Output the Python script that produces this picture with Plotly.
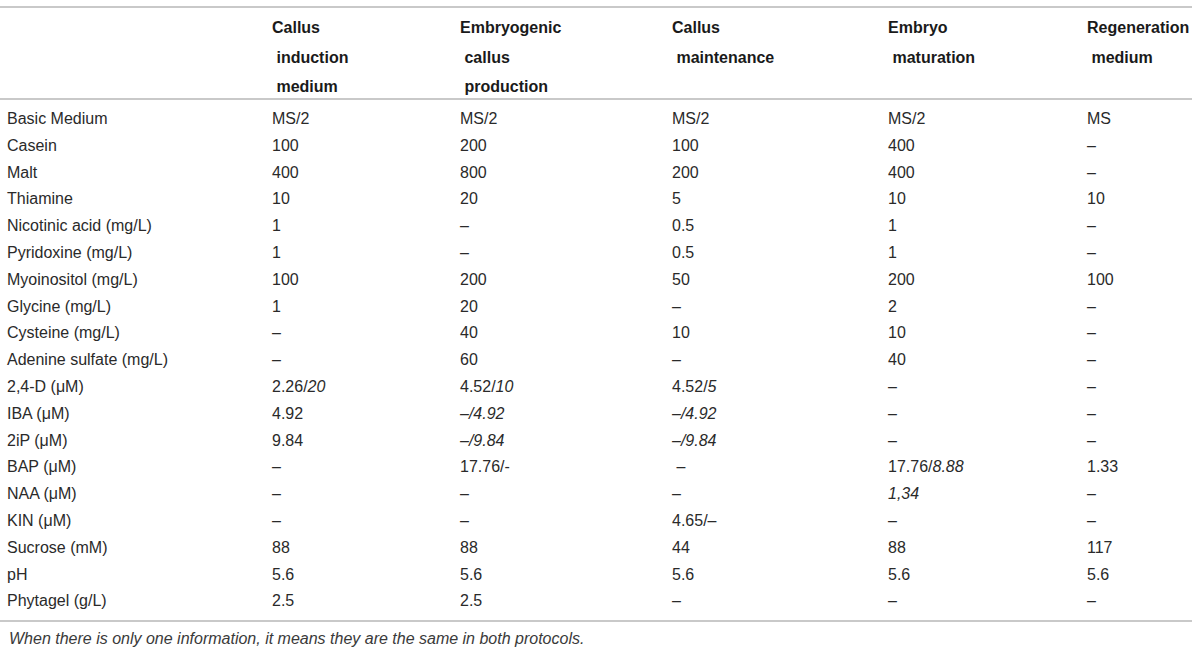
import plotly.graph_objects as go

# table content
row_labels = [
    "Basic Medium", "Casein", "Malt", "Thiamine", "Nicotinic acid (mg/L)",
    "Pyridoxine (mg/L)", "Myoinositol (mg/L)", "Glycine (mg/L)", "Cysteine (mg/L)",
    "Adenine sulfate (mg/L)", "2,4-D (μM)", "IBA (μM)", "2iP (μM)", "BAP (μM)",
    "NAA (μM)", "KIN (μM)", "Sucrose (mM)", "pH", "Phytagel (g/L)",
]

header_callus_induction = ["Callus", "\u00a0induction", "\u00a0medium"]
header_embryogenic = ["Embryogenic", "\u00a0callus", "\u00a0production"]
header_maintenance = ["Callus", "\u00a0maintenance"]
header_maturation = ["Embryo", "\u00a0maturation"]
header_regeneration = ["Regeneration", "\u00a0medium"]

callus_induction = ["MS/2", "100", "400", "10", "1", "1", "100", "1", "–", "–",
                    "2.26/<i>20</i>", "4.92", "9.84", "–", "–", "–", "88", "5.6", "2.5"]
embryogenic = ["MS/2", "200", "800", "20", "–", "–", "200", "20", "40", "60",
               "4.52/<i>10</i>", "<i>–/4.92</i>", "<i>–/9.84</i>", "17.76/-", "–", "–",
               "88", "5.6", "2.5"]
maintenance = ["MS/2", "100", "200", "5", "0.5", "0.5", "50", "–", "10", "–",
               "4.52/<i>5</i>", "<i>–/4.92</i>", "<i>–/9.84</i>", "\u00a0–", "–", "4.65/–",
               "44", "5.6", "–"]
maturation = ["MS/2", "400", "400", "10", "1", "1", "200", "2", "10", "40",
              "–", "–", "–", "17.76/<i>8.88</i>", "<i>1,34</i>", "–", "88", "5.6", "–"]
regeneration = ["MS", "–", "–", "10", "–", "–", "100", "–", "–", "–",
                "–", "–", "–", "1.33", "–", "–", "117", "5.6", "–"]

footnote = "When there is only one information, it means they are the same in both protocols."

columns = [
    ([], row_labels),
    (header_callus_induction, callus_induction),
    (header_embryogenic, embryogenic),
    (header_maintenance, maintenance),
    (header_maturation, maturation),
    (header_regeneration, regeneration),
]

# layout (pixel-like x axis, row-index y axis)
col_x = [7, 272, 460, 672, 888, 1087]
header_rows = [-3.40, -2.28, -1.19]
W, H = 1200, 651
FONT = "Liberation Sans, Arial, Helvetica, sans-serif"

fig = go.Figure()
for (head, vals), x0 in zip(columns, col_x):
    fig.add_trace(go.Scatter(
        x=[x0] * len(vals), y=list(range(len(vals))), text=vals,
        mode="text", textposition="middle right", cliponaxis=False,
        textfont=dict(family=FONT, size=16, color="#2a2a2a"),
        hoverinfo="skip", showlegend=False))
    if head:
        fig.add_trace(go.Scatter(
            x=[x0] * len(head), y=header_rows[:len(head)],
            text=["<b>%s</b>" % h for h in head],
            mode="text", textposition="middle right", cliponaxis=False,
            textfont=dict(family=FONT, size=16, color="#1a1a1a"),
            hoverinfo="skip", showlegend=False))

rule = dict(type="line", xref="paper", yref="paper", x0=0, x1=1192 / W,
            line=dict(color="#c9c9c9", width=2))
for p in [7, 99, 621]:
    fig.add_shape(**rule, y0=1 - p / H, y1=1 - p / H)

fig.add_annotation(text="<i>%s</i>" % footnote, xref="paper", yref="paper",
                   x=7 / W, y=1 - 638 / H, xanchor="left", yanchor="middle",
                   showarrow=False, font=dict(family=FONT, size=16, color="#3a3a3a"))

step = 26.8
fig.update_layout(
    width=W, height=H, margin=dict(l=0, r=0, t=0, b=0),
    paper_bgcolor="white", plot_bgcolor="white",
    xaxis=dict(range=[0, W], visible=False, fixedrange=True),
    yaxis=dict(range=[(H - 120) / step, -120 / step], visible=False, fixedrange=True),
)

# drop the default page margin so the figure sits at the window's corner
fig.write_html("out.html", config={"displayModeBar": False},
               post_script="document.body.style.margin='0px';")
